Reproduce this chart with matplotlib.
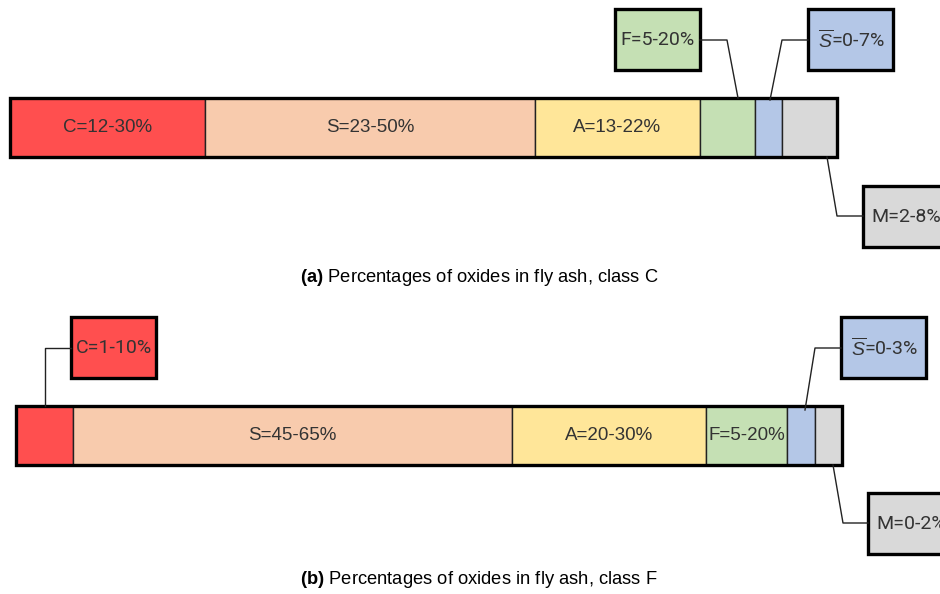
import numpy as np
import matplotlib
matplotlib.use("Agg")
import matplotlib.pyplot as plt
from matplotlib.patches import Rectangle

plt.rcParams["mathtext.fontset"] = "custom"
plt.rcParams["mathtext.rm"] = "Liberation Sans"
plt.rcParams["mathtext.it"] = "Liberation Sans:italic"
plt.rcParams["mathtext.bf"] = "Liberation Sans:bold"

# oxide order in both bars
oxides = ["C", "S", "A", "F", r"$\overline{S}$", "M"]
colors = ["#FF4F4F", "#F8CBAD", "#FFE699", "#C5E0B4", "#B4C7E7", "#D9D9D9"]

# class C fly ash: ranges and drawn segment lengths
ranges_c = ["12-30%", "23-50%", "13-22%", "5-20%", "0-7%", "2-8%"]
lengths_c = [195, 330, 165, 55, 27, 55]
inside_c = [True, True, True, False, False, False]

# class F fly ash
ranges_f = ["1-10%", "45-65%", "20-30%", "5-20%", "0-3%", "0-2%"]
lengths_f = [57, 439, 194, 81, 28, 27]
inside_f = [False, True, True, True, False, False]

captions = ["Percentages of oxides in fly ash, class C",
            "Percentages of oxides in fly ash, class F"]

BAR_FONT = "Liberation Sans"
BOX_FONT = "Roboto"

fig = plt.figure(figsize=(9.4, 5.94), dpi=100)
ax = fig.add_axes([0, 0, 1, 1])
ax.set_xlim(0, 940)
ax.set_ylim(594, 0)
ax.axis("off")


def draw_bar(x0, ytop, h, lengths, ranges, inside):
    lefts = x0 + np.concatenate([[0], np.cumsum(lengths)[:-1]])
    ax.barh(ytop + h / 2, lengths, left=lefts, height=h, color=colors,
            edgecolor="#222222", linewidth=1.0)
    ax.add_patch(Rectangle((x0, ytop), sum(lengths), h, fill=False,
                           edgecolor="black", lw=2.4))
    for l, w, name, r, ins in zip(lefts, lengths, oxides, ranges, inside):
        if ins:
            ax.text(l + w / 2, ytop + h / 2, f"{name}={r}", ha="center",
                    va="center", fontsize=13.5, family=BAR_FONT, color="#333333")


def callout(k, ranges, box, path):
    # box on the edge is cut off by the picture border, as in the source
    bx, by = box
    ax.add_patch(Rectangle((bx, by), 85, 61, facecolor=colors[k],
                           edgecolor="black", lw=2.4))
    ax.text(bx + 43, by + 31, f"{oxides[k]}={ranges[k]}", ha="center",
            va="center", fontsize=14, family=BOX_FONT, color="#333333")
    xs, ys = zip(*path)
    ax.plot(xs, ys, color="#222222", lw=1.0)


# (a) class C
draw_bar(10, 98, 59, lengths_c, ranges_c, inside_c)
callout(3, ranges_c, (615, 9), [(700, 40), (727, 40), (738, 98)])
callout(4, ranges_c, (808, 9), [(808, 40), (782, 40), (770, 100)])
callout(5, ranges_c, (863, 186), [(863, 216), (837, 216), (827, 157)])

# (b) class F
draw_bar(16, 406, 59, lengths_f, ranges_f, inside_f)
callout(0, ranges_f, (71, 317), [(71, 348), (45, 348), (45, 406)])
callout(4, ranges_f, (841, 317), [(841, 348), (815, 348), (805, 410)])
callout(5, ranges_f, (868, 493), [(868, 523), (843, 523), (833, 465)])

for tag, cap, y in zip(["(a)", "(b)"], captions, [277, 580]):
    ax.text(479, y, rf"$\bf{{{tag}}}$ " + cap, ha="center", va="center",
            fontsize=13.2, family="Liberation Sans", color="black")

fig.savefig("out.png", dpi=100)
